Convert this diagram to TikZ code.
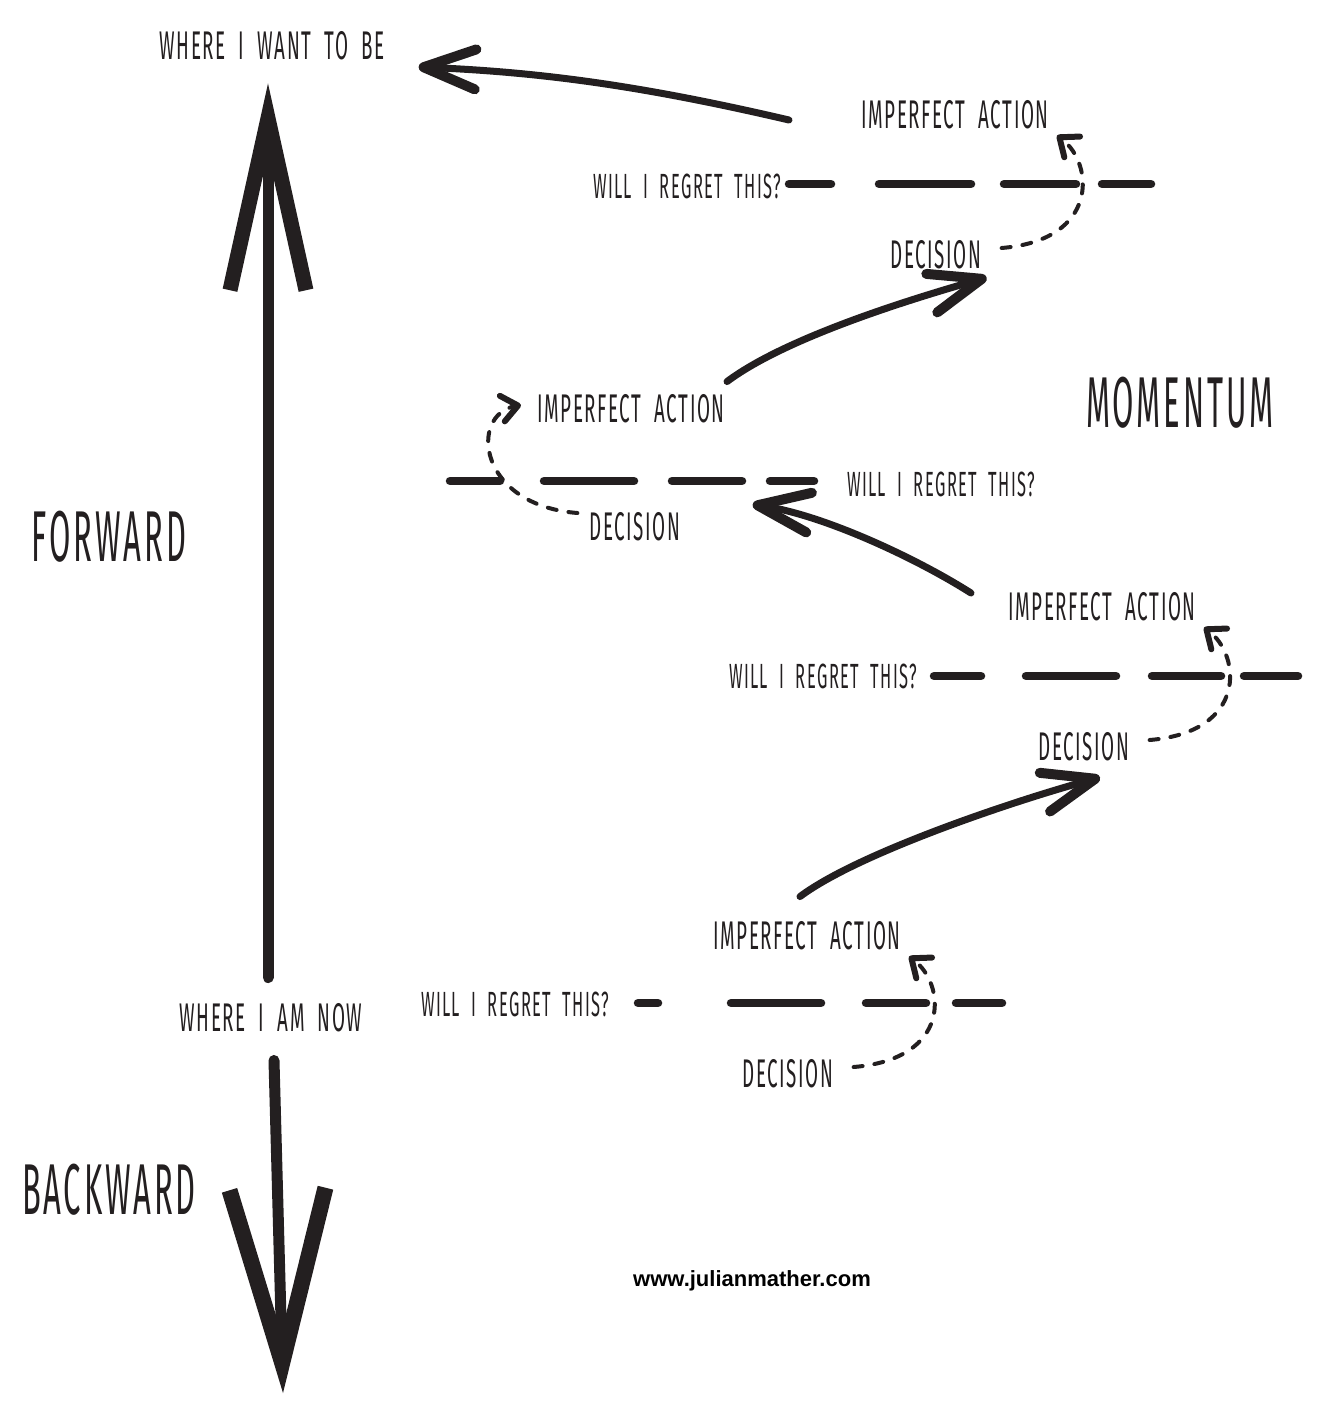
\documentclass[tikz,border=0pt]{standalone}
\usepackage{fontspec}
\newfontfamily\handfont[FakeStretch=0.47,LetterSpace=4,WordSpace=2]{Fira Sans}
\newfontfamily\bighandfont[FakeStretch=0.43,LetterSpace=4]{Fira Sans}
\setsansfont{Liberation Sans}
\usetikzlibrary{arrows.meta, positioning}
\definecolor{ink}{RGB}{35,31,32}
\tikzset{
	hand/.style={inner sep=0pt, text=ink, font=\handfont\fontsize{40}{40}\selectfont},
	askq/.style={hand, font=\handfont\fontsize{35}{35}\selectfont},
	bigword/.style={hand, font=\bighandfont\fontsize{72}{72}\selectfont},
	regretline/.style={draw=ink, line width=8.5pt, line cap=round},
	uparr/.style={draw=ink, line width=11pt, line cap=round,
		-{Straight Barb[length=172pt, width=76pt, line width'=15pt]}},
	downarr/.style={draw=ink, line width=11pt, line cap=round,
		-{Straight Barb[length=174pt, width=96pt, line width'=16pt]}},
	steparr/.style={draw=ink, line width=7pt, line cap=round,
		-{Straight Barb[round, length=52pt, width=40pt, line width'=10pt]}},
	loopback/.style={draw=ink, line width=4pt, line cap=round, dash pattern=on 9pt off 12pt,
		-{Straight Barb[round, length=16pt, width=26pt, line width'=6pt]}},
}

\begin{document}
\begin{tikzpicture}[x=1pt, y=-1pt]
	\useasboundingbox (0,0) rectangle (1344,1422);

	% the big axis: now -> want, and the way back
	\node[hand] (want) at (272,46) {WHERE I WANT TO BE};
	\node[hand] (now) at (271,1018) {WHERE I AM NOW};
	\node[bigword] (fwd) at (109,537) {FORWARD};
	\node[bigword] (bwd) at (109,1190) {BACKWARD};
	\node[bigword] (mom) at (1180,403) {MOMENTUM};
	\coordinate (past) at (283,1393);

	\draw[uparr] ([xshift=-3pt,yshift=26pt]now.north) -- ([xshift=-4pt,yshift=-23pt]want.south);
	\draw[downarr] ([xshift=3pt,yshift=-28pt]now.south) -- (past);

	% one level per step: question, action, decision
	\foreach \g/\qx/\qy/\ax/\ay/\dx/\dy in {%
		1/515/1004/807/936/788/1074,
		2/823/676/1102/607/1084/747,
		3/941/484/631/409/635/527,
		4/687/186/955/115/936/255}
	{
		\node[askq] (q\g) at (\qx,\qy) {WILL I REGRET THIS?};
		\node[hand] (act\g) at (\ax,\ay) {IMPERFECT ACTION};
		\node[hand] (dec\g) at (\dx,\dy) {DECISION};
	}

	% the regret lines, dashes by hand
	\coordinate (l1a) at (638,1003); \coordinate (l1b) at (1002,1003);
	\coordinate (l2a) at (934,676);  \coordinate (l2b) at (1298,676);
	\coordinate (l3a) at (814,481);  \coordinate (l3b) at (450,481);
	\coordinate (l4a) at (789,184);  \coordinate (l4b) at (1151,184);
	\draw[regretline, dash pattern=on 20pt off 73pt on 90pt off 45pt on 60pt off 30pt on 46pt off 99pt] (l1a) -- (l1b);
	\draw[regretline, dash pattern=on 47pt off 45pt on 90pt off 36pt on 69pt off 23pt on 54pt off 99pt] (l2a) -- (l2b);
	\draw[regretline, dash pattern=on 44pt off 28pt on 70pt off 38pt on 90pt off 44pt on 50pt off 99pt] (l3a) -- (l3b);
	\draw[regretline, dash pattern=on 42pt off 48pt on 92pt off 33pt on 72pt off 26pt on 49pt off 99pt] (l4a) -- (l4b);

	% decision loops back up through the line to the action
	\foreach \g in {1,2,4}
		\draw[loopback] ([xshift=20pt,yshift=7pt]dec\g.east) .. controls +(98,-8) and +(37,28) .. ([xshift=8pt,yshift=-6pt]act\g.south east);
	\draw[loopback] ([xshift=-12pt,yshift=14pt]dec3.west) .. controls +(-100,-8) and +(-52,10) .. ([xshift=-16pt,yshift=4pt]act3.west);

	% each action carries on to the next decision
	\draw[steparr] ([xshift=-7pt,yshift=25pt]act1.north) .. controls +(60,-45) and +(-75,20) .. ([xshift=16pt,yshift=-16pt]dec2.south);
	\draw[steparr] ([xshift=-37pt,yshift=14pt]act2.west) .. controls +(-55,-35) and +(70,10) .. ([xshift=72pt,yshift=8pt]dec3.north east);
	\draw[steparr] ([xshift=2pt,yshift=13pt]act3.north east) .. controls +(60,-45) and +(-70,20) .. ([xshift=5pt,yshift=-8pt]dec4.south east);
	\draw[steparr] ([xshift=-72pt,yshift=-5pt]act4.west) .. controls +(-150,-35) and +(120,5) .. ([xshift=34pt,yshift=-21pt]want.east);

	\node[inner sep=0pt, font=\sffamily\bfseries\fontsize{22}{22}\selectfont] (web) at (752,1281) {www.julianmather.com};
\end{tikzpicture}
\end{document}
